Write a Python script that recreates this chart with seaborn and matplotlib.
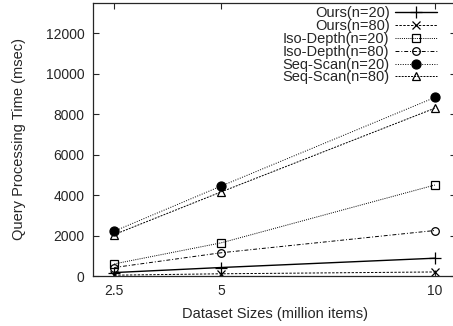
import pandas as pd
import seaborn as sns
import matplotlib
matplotlib.use("Agg")
import matplotlib.pyplot as plt

# data
sizes = [2.5, 5, 10]
ours_20 = [170, 420, 880]
ours_80 = [40, 110, 200]
iso_20 = [600, 1640, 4500]
iso_80 = [420, 1150, 2250]
seq_20 = [2220, 4450, 8830]
seq_80 = [2050, 4160, 8300]
labels = ["Ours(n=20)", "Ours(n=80)", "Iso-Depth(n=20)", "Iso-Depth(n=80)",
          "Seq-Scan(n=20)", "Seq-Scan(n=80)"]
series = [ours_20, ours_80, iso_20, iso_80, seq_20, seq_80]

sns.set_style("ticks")
plt.rcParams["font.family"] = ["Liberation Sans", "DejaVu Sans"]
plt.rcParams["font.size"] = 10

styles = [
    dict(marker="+", linestyle="-", lw=1.0, ms=8, mfc="black"),
    dict(marker="x", linestyle=(0, (2.5, 1.5)), lw=0.7, ms=6, mfc="black"),
    dict(marker="s", linestyle=(0, (1, 1.2)), lw=0.7, ms=5.5, mfc="none"),
    dict(marker="o", linestyle=(0, (4, 2, 1, 2)), lw=0.7, ms=5.5, mfc="none"),
    dict(marker="o", linestyle=(0, (1, 1.5)), lw=0.7, ms=6.5, mfc="black"),
    dict(marker="^", linestyle=(0, (2, 1.2)), lw=0.7, ms=5.5, mfc="none"),
]

fig = plt.figure(figsize=(4.53, 3.26), dpi=100)
ax = fig.add_axes([93 / 453, 50 / 326, (456.3 - 93) / 453, 273 / 326])

for lab, vals, st in zip(labels, series, styles):
    df = pd.DataFrame({"x": sizes, "y": vals})
    sns.lineplot(data=df, x="x", y="y", ax=ax, color="black", label=lab,
                 marker=st["marker"], linestyle=st["linestyle"], lw=st["lw"],
                 markersize=st["ms"], markerfacecolor=st["mfc"],
                 markeredgecolor="black", markeredgewidth=0.9)

ax.set_xlim(2, 10.5)
ax.set_ylim(0, 13500)
ax.set_xticks(sizes)
ax.set_xticklabels(["2.5", "5", "10"])
ax.set_yticks(range(0, 12001, 2000))
ax.tick_params(direction="in", length=4, width=0.8, top=True, right=True,
               labelsize=10, pad=6)
for s in ax.spines.values():
    s.set_linewidth(0.9)
ax.set_xlabel("Dataset Sizes (million items)", fontsize=10.5, labelpad=6)
ax.set_ylabel("Query Processing Time (msec)", fontsize=10.5, labelpad=14)

ax.legend(loc="upper right", bbox_to_anchor=((437 - 93) / 363.3, 0.988),
          frameon=False, markerfirst=False, handlelength=2.9,
          labelspacing=-0.08, borderaxespad=0, borderpad=0,
          handletextpad=0.35, fontsize=10.5)

fig.savefig("out.png", dpi=100)
